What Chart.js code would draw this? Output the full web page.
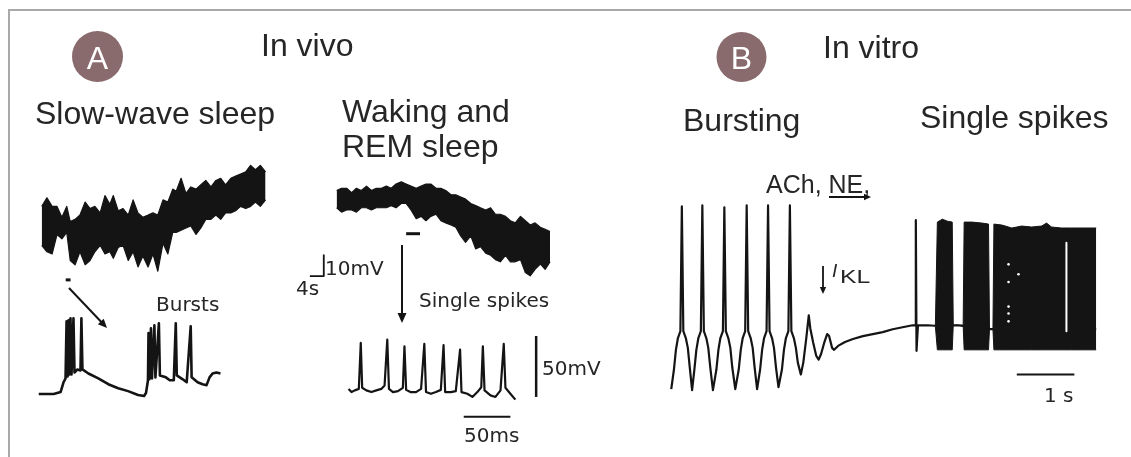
<!DOCTYPE html>
<html>
<head>
<meta charset="utf-8">
<title>Thalamic neuron firing modes</title>
<script src="https://cdn.jsdelivr.net/npm/chart.js@4.4.1/dist/chart.umd.min.js"></script>
<style>
  html, body { margin: 0; padding: 0; background: #fff; }
</style>
</head>
<body>
<canvas id="fig" width="1131" height="457"></canvas>
<script>
const W = 1131, H = 457;

// ---- A, slow-wave sleep, slow sweep (s, mV): upper / lower edge of the trace
const swsTime = [0, 1.5, 3, 4.4, 5.8, 7.2, 8.2, 9.6, 11, 12.5, 13.9, 15.3, 16.8, 18.2, 19.6, 20.6, 22, 23.4, 24.9, 26.3, 27.7, 29.1, 30.6, 32, 33.4, 34.9, 36.3, 37.7, 38.7, 40.1, 41.5, 42.9, 44.4, 45.8, 47.2, 48.7, 50.1, 51.5, 52.9, 54.4, 55.8, 57.2, 58.7, 60.1, 61.5, 62.9, 64.4];
const swsTop = [-40, -36, -40, -40, -45, -40, -47, -46, -44, -38, -41, -40, -43, -35, -39, -35, -42, -41, -44, -37, -43, -45, -44, -43, -44, -37, -38, -32, -33, -27, -34, -31, -32, -30, -28, -31, -28, -27, -30, -27, -26, -25, -24, -21, -23, -21, -24];
const swsBottom = [-58, -61, -62, -53, -55, -52, -65, -67, -61, -67, -65, -61, -58, -62, -61, -64, -59, -58, -65, -61, -68, -63, -68, -62, -70, -57, -62, -52, -52, -51, -50, -49, -53, -50, -46, -46, -44, -46, -43, -43, -42, -40, -41, -40, -38, -40, -37];
const swsMarkTime = [6.9, 8.3];
const swsMarkV = [-74, -74];

// ---- A, waking and REM sleep, slow sweep (s, mV)
const wakeTime = [0, 1.4, 2.9, 4.3, 5.7, 7.1, 8.6, 10, 11.4, 12.9, 14.3, 15.7, 17.1, 18.6, 20, 21.4, 22.9, 24.3, 25.7, 27.1, 28.6, 30, 31.4, 32.9, 34.3, 35.7, 37.1, 38.6, 40, 41.4, 42.9, 44.3, 45.7, 47.1, 48.6, 50, 51.4, 52.9, 54.3, 55.7, 57.1, 58.6, 60, 61.4];
const wakeTop = [-29, -28, -28, -30, -28, -29, -27, -29, -28, -28, -27, -28, -26, -25, -26, -27, -28, -27, -26, -26, -28, -28, -29, -31, -31, -32, -33, -35, -36, -37, -38, -37, -40, -40, -41, -43, -44, -41, -43, -45, -44, -46, -47, -48];
const wakeBottom = [-37, -39, -38, -38, -39, -37, -37, -38, -37, -37, -37, -36, -37, -35, -35, -38, -42, -41, -43, -41, -40, -43, -44, -45, -46, -50, -53, -50, -56, -55, -58, -59, -61, -62, -59, -62, -62, -61, -67, -68.5, -65.5, -63, -65.5, -62];
const wakeMarkTime = [20, 24];
const wakeMarkV = [-49, -49];
const slowBarTime = [-7.7, -3.7, -3.7];   // 4 s
const slowBarV = [-68.6, -68.6, -58.6];   // 10 mV

// ---- A, bursts (ms, mV)
const burstTime = [0, 16, 23.4, 26.6, 28.7, 29.8, 30.9, 31.9, 33, 34, 35.1, 37.2, 38.3, 41.5, 44.7, 45.7, 46.8, 53.2, 63.8, 74.5, 85.1, 95.7, 106.4, 112.8, 114.9, 117, 117.6, 118.6, 120.2, 121.3, 123.9, 125, 128.7, 129.8, 136.2, 140.4, 144.7, 146.8, 147.9, 154.3, 158.5, 162.8, 163.8, 170.2, 175.5, 179.8, 183, 186.2, 190.4, 194.7];
const burstV = [-70, -70, -68.4, -60.3, -57.1, -10.3, -55.5, -9.5, -53.9, -7.9, -53.9, -7.9, -52.3, -49.8, -50.6, -7.9, -49.8, -53.1, -57.1, -61.9, -65.2, -67.6, -70.8, -71.6, -69.2, -58.7, -20, -57.9, -16, -57.1, -13.5, -56.3, -11.9, -54.7, -56.3, -58.7, -58.7, -11.9, -54.7, -57.9, -60.3, -14.4, -56.3, -60.3, -61.9, -62.7, -56.3, -53.1, -52.3, -53.1];

// ---- A, single spikes (ms, mV)
const singleTime = [0, 3.2, 6.7, 11, 13.1, 14.6, 19.1, 24.5, 29.8, 35.1, 38.6, 41.5, 43.3, 47.6, 52.9, 58.2, 59.9, 61.7, 66.3, 72.3, 77.7, 81.2, 83, 88.3, 93.6, 98.9, 101.8, 103.5, 109.6, 114.9, 119.5, 121, 127.3, 132.7, 138, 142.2, 143.9, 145.7, 152.1, 157.4, 162.8, 166.3, 168.1, 173.4, 178.7];
const singleV = [-69, -71.6, -70.2, -69, -31.3, -68.1, -70.2, -71.6, -70.2, -69, -66.2, -28.6, -69, -71.6, -70.8, -68.1, -34, -69.8, -71.6, -71.6, -69, -32.1, -71.6, -73, -71.6, -69.8, -33.1, -71.6, -71.6, -70.8, -36.7, -71.6, -73, -75.6, -71.6, -67.6, -34, -70.2, -74.3, -75.6, -70.2, -32.1, -68.1, -73, -77.8];
const mvBarTime = [201, 201];      // 50 mV
const mvBarV = [-75.6, -25.6];
const msBarTime = [123.4, 173.4];  // 50 ms
const msBarV = [-91.8, -91.8];

// ---- B, in vitro (s, mV)
const vitroTime = [0, 0.047, 0.081, 0.116, 0.159, 0.184, 0.21, 0.253, 0.288, 0.322, 0.362,
  0.402, 0.436, 0.471, 0.514, 0.54, 0.566, 0.609, 0.643, 0.678, 0.724,
  0.784, 0.819, 0.853, 0.897, 0.922, 0.948, 0.991, 1.026, 1.06, 1.112,
  1.172, 1.207, 1.241, 1.284, 1.31, 1.336, 1.379, 1.414, 1.448, 1.491,
  1.543, 1.578, 1.612, 1.655, 1.681, 1.707, 1.75, 1.784, 1.819, 1.862,
  1.922, 1.957, 1.991, 2.034, 2.06, 2.086, 2.129, 2.164, 2.198, 2.25,
  2.293, 2.345, 2.388, 2.414, 2.466, 2.517, 2.56, 2.603, 2.655, 2.707, 2.741, 2.793, 2.828, 2.897, 3.017, 3.155, 3.328, 3.5, 3.672, 3.845, 4.017, 4.19, 4.233, 4.247, 4.259, 4.284, 4.448, 4.707, 4.966, 5.224, 5.552, 5.655, 7.379];
const vitroV = [-70, -62, -54, -49.2, -46.4, 4.4, -46.4, -49.2, -53.2, -61.2, -70.4,
  -62, -54, -49.2, -46.4, 4.8, -46.4, -49.2, -53.2, -61.2, -70.4,
  -62, -54, -49.2, -46.4, 4, -46.4, -49.2, -53.2, -61.2, -70,
  -62, -54, -49.2, -46.4, 4.8, -46.4, -49.2, -53.2, -61.2, -70,
  -62, -54, -49.2, -46.4, 4.8, -46.4, -49.2, -53.2, -61.2, -69.2,
  -62, -54, -49.2, -46.4, 4.8, -46.4, -49.2, -53.2, -59.2, -64,
  -59.2, -49.2, -40, -45.2, -51.2, -56.4, -58, -55.6, -51.2, -47.6, -48.4, -53.2, -54, -52.4, -50.8, -49.6, -48.4, -47.6, -46.8, -45.6, -44.8, -44, -44, -1.2, -54.4, -44, -44, -44.4, -44, -44.8, -45.6, -45.6, -45.6];
const tonicTime = [4.586, 4.621, 4.707, 4.793, 4.879, 4.897, 5.069, 5.086, 5.224, 5.397, 5.509, 5.526, 5.586, 5.603, 5.741, 5.914, 6.086, 6.259, 6.431, 6.517, 6.603, 6.776, 6.948, 7.121, 7.293, 7.379];
const tonicTop = [-44.4, -2, -0.8, -1.6, -2, -44, -44, -2, -2, -2.4, -2.8, -45.6, -45.6, -2.8, -3.2, -4.4, -3.6, -4, -3.6, -2.4, -4, -4.4, -4.4, -4.4, -4.4, -4.4];
const tonicBottom = [-44.4, -54, -54, -54, -54, -44, -44, -54, -54, -54, -54, -45.6, -45.6, -54, -54, -54, -54, -54, -54, -54, -54, -54, -54, -54, -54, -54];
const artifactTime = [6.862, 6.862];
const artifactV = [-10.4, -46.4];
const specksTime = [5.857, 5.857, 5.857, 5.857, 5.857, 6.029];
const specksV = [-19.2, -26.4, -36.4, -39.2, -42.4, -23.2];
const secBarTime = [6, 7];         // 1 s
const secBarV = [-64, -64];

// where each recording sits on the page: px of t=0, px per unit, px of v0, px per mV
const placement = {
  sws:    { x0: 38,  kx: 3.5,  y0: 272, v0: -70, ky: 2.2 },
  wake:   { x0: 335, kx: 3.5,  y0: 280, v0: -70, ky: 2.2 },
  burst:  { x0: 35,  kx: 0.94, y0: 397, v0: -70, ky: 1.24 },
  single: { x0: 347, kx: 0.94, y0: 393, v0: -70, ky: 1.24 },
  vitro:  { x0: 672, kx: 58,   y0: 392, v0: -70, ky: 2.5 }
};

const INK = '#141414';
const TEXT = '#262626';

const scales = {
  x: { display: false }, y: { display: false }
};
Object.entries(placement).forEach(([name, p]) => {
  scales['x_' + name] = { type: 'linear', axis: 'x', display: false, bounds: 'data',
    min: -p.x0 / p.kx, max: (W - p.x0) / p.kx };
  scales['y_' + name] = { type: 'linear', axis: 'y', display: false, bounds: 'data',
    min: p.v0 - (H - p.y0) / p.ky, max: p.v0 + p.y0 / p.ky };
});

const pts = (ts, vs) => ts.map((t, i) => ({ x: t, y: vs[i] }));

function trace(group, ts, vs, extra) {
  return Object.assign({
    data: pts(ts, vs),
    xAxisID: 'x_' + group,
    yAxisID: 'y_' + group,
    borderColor: INK,
    borderWidth: 2,
    pointRadius: 0,
    fill: false
  }, extra || {});
}

const datasets = [
  trace('vitro', artifactTime, artifactV, { borderColor: '#fff', borderWidth: 2, order: -1 }),
  trace('vitro', specksTime, specksV, { showLine: false, pointRadius: 1.3, pointBackgroundColor: '#fff', pointBorderWidth: 0, order: -1 }),
  trace('sws', swsTime, swsTop, { borderWidth: 1.2 }),
  trace('sws', swsTime, swsBottom, { borderWidth: 1.2, fill: '-1', backgroundColor: INK }),
  trace('wake', wakeTime, wakeTop, { borderWidth: 1.2 }),
  trace('wake', wakeTime, wakeBottom, { borderWidth: 1.2, fill: '-1', backgroundColor: INK }),
  trace('sws', swsMarkTime, swsMarkV, { borderWidth: 3 }),
  trace('wake', wakeMarkTime, wakeMarkV, { borderWidth: 3 }),
  trace('wake', slowBarTime, slowBarV, { borderWidth: 1.8 }),
  trace('burst', burstTime, burstV, { borderWidth: 2.6 }),
  trace('single', singleTime, singleV, { borderWidth: 2.2 }),
  trace('single', mvBarTime, mvBarV, { borderWidth: 2.5 }),
  trace('single', msBarTime, msBarV, { borderWidth: 2 }),
  trace('vitro', tonicTime, tonicTop, { borderWidth: 1 }),
  trace('vitro', tonicTime, tonicBottom, { borderWidth: 1, fill: '-1', backgroundColor: INK }),
  trace('vitro', vitroTime, vitroV, { borderWidth: 2.2 }),
  trace('vitro', secBarTime, secBarV, { borderWidth: 2 })
];

const TITLE = '32px "Liberation Sans", Arial, sans-serif';
const SMALL = '20px "DejaVu Sans", sans-serif';
const captions = [
  ['In vivo', 261, 56, TITLE],
  ['In vitro', 823, 58, TITLE],
  ['Slow-wave sleep', 35, 124, TITLE],
  ['Waking and', 342, 122, TITLE],
  ['REM sleep', 342, 157, TITLE],
  ['Bursting', 683, 131, TITLE],
  ['Single spikes', 920, 128, TITLE],
  ['ACh, NE,', 766, 193, '25px "Liberation Sans", Arial, sans-serif'],
  ['Bursts', 156, 311, SMALL],
  ['Single spikes', 419, 307, SMALL],
  ['10mV', 325, 275, SMALL],
  ['4s', 296, 295, SMALL],
  ['50mV', 542, 375, SMALL],
  ['50ms', 464, 442, SMALL],
  ['1 s', 1044, 402, SMALL]
];

function arrow(c, x1, y1, x2, y2, head, width) {
  const a = Math.atan2(y2 - y1, x2 - x1);
  c.save();
  c.strokeStyle = INK; c.fillStyle = INK; c.lineWidth = width;
  c.beginPath(); c.moveTo(x1, y1);
  c.lineTo(x2 - Math.cos(a) * head * 0.8, y2 - Math.sin(a) * head * 0.8); c.stroke();
  c.beginPath();
  c.moveTo(x2, y2);
  c.lineTo(x2 - head * Math.cos(a) + head * 0.45 * Math.sin(a), y2 - head * Math.sin(a) - head * 0.45 * Math.cos(a));
  c.lineTo(x2 - head * Math.cos(a) - head * 0.45 * Math.sin(a), y2 - head * Math.sin(a) + head * 0.45 * Math.cos(a));
  c.closePath(); c.fill();
  c.restore();
}

function badge(c, letter, cx, cy, r) {
  c.save();
  c.fillStyle = '#8a6b6d';
  c.beginPath(); c.arc(cx, cy, r, 0, Math.PI * 2); c.fill();
  c.fillStyle = '#fff';
  c.font = '32px "Liberation Sans", Arial, sans-serif';
  c.textAlign = 'center'; c.textBaseline = 'alphabetic';
  c.fillText(letter, cx, cy + 12);
  c.restore();
}

const figurePlugin = {
  id: 'figure',
  beforeDraw(chart) {
    const c = chart.ctx;
    c.save();
    c.fillStyle = '#fff'; c.fillRect(0, 0, W, H);
    c.strokeStyle = '#a9a9a9'; c.lineWidth = 2;
    c.beginPath(); c.moveTo(9, H); c.lineTo(9, 10); c.lineTo(W, 10); c.stroke();
    c.restore();
  },
  afterDraw(chart) {
    const c = chart.ctx;
    badge(c, 'A', 97.5, 56.5, 25.5);
    badge(c, 'B', 741.5, 57, 25);
    c.save();
    c.fillStyle = TEXT;
    c.textBaseline = 'alphabetic';
    captions.forEach(([s, x, y, f]) => { c.font = f; c.fillText(s, x, y); });
    // I_KL
    c.font = 'italic 19px "Liberation Sans", Arial, sans-serif';
    c.fillText('I', 832, 277);
    c.translate(840, 283); c.scale(1.3, 1);
    c.font = '19px "Liberation Sans", Arial, sans-serif';
    c.fillText('KL', 0, 0);
    c.restore();
    arrow(c, 69, 288, 107, 328, 9, 2);
    arrow(c, 402, 245, 402, 323, 10, 2);
    arrow(c, 823, 266, 823, 294, 7, 1.8);
    arrow(c, 829, 197, 871, 197, 7, 2);
  }
};

new Chart(document.getElementById('fig'), {
  type: 'line',
  data: { datasets },
  options: {
    responsive: false,
    animation: false,
    events: [],
    layout: { padding: 0 },
    plugins: { legend: { display: false }, tooltip: { enabled: false }, title: { display: false } },
    elements: {
      point: { radius: 0 },
      line: { tension: 0, borderJoinStyle: 'round', borderCapStyle: 'butt' }
    },
    scales
  },
  plugins: [figurePlugin]
});
</script>
</body>
</html>
